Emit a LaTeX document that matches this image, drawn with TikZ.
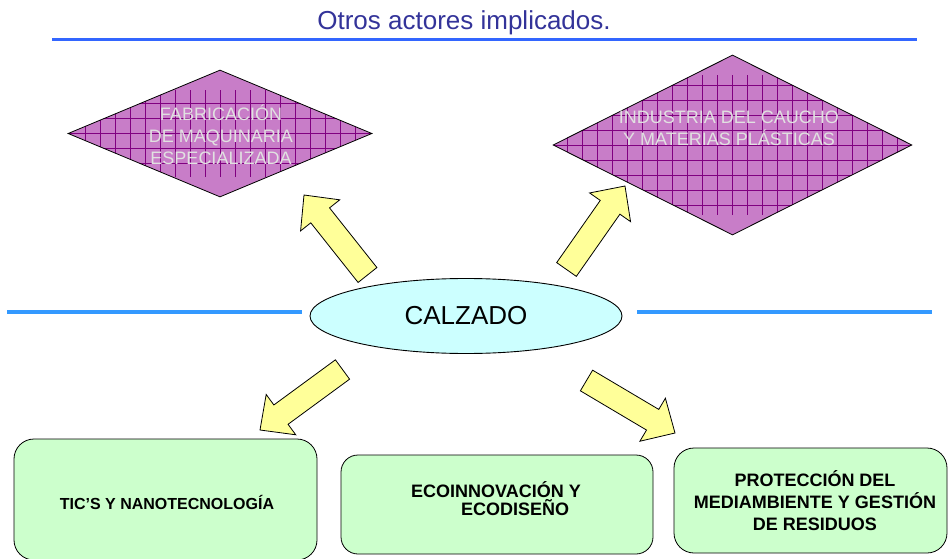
\documentclass[tikz,border=0pt]{standalone}
\usepackage{fontspec}
\setmainfont{Liberation Sans}
\usetikzlibrary{shapes.geometric,calc}
\definecolor{titleblue}{RGB}{51,51,153}
\definecolor{topblue}{RGB}{51,102,255}
\definecolor{midblue}{RGB}{51,153,255}
\definecolor{diafill}{RGB}{200,125,200}
\definecolor{diagrid}{RGB}{128,0,128}
\definecolor{diatext}{RGB}{225,225,225}
\definecolor{yarr}{RGB}{255,255,153}
\definecolor{ellfill}{RGB}{204,255,255}
\definecolor{boxfill}{RGB}{204,255,204}
\tikzset{
  dia/.style={diamond, draw=black, line width=0.8pt, fill=diafill, inner sep=0pt,
    path picture={\draw[diagrid, line width=0.7pt]
      ([shift={(-20pt,20pt)}]path picture bounding box.south west) grid[step=15pt]
      ([shift={(20pt,-20pt)}]path picture bounding box.north east);}},
  diatxt/.style={text=diatext, align=center, font=\fontsize{18pt}{22pt}\selectfont},
  yarrow/.style={draw=black, line width=0.8pt, fill=yarr, line join=miter},
  ell/.style={ellipse, draw=black, line width=0.9pt, fill=ellfill, inner sep=0pt},
  greenbox/.style={rectangle, rounded corners=20pt, draw=black, line width=0.8pt, fill=boxfill, inner sep=0pt},
  boxtxt/.style={align=center, font=\bfseries\fontsize{18pt}{22pt}\selectfont},
  topline/.style={draw=topblue, line width=3pt},
  midline/.style={draw=midblue, line width=4pt},
}
\newcommand{\blockarr}[2]{%
  \path ($(#2)!26pt!(#1)$) coordinate (hb);
  \draw[yarrow] ($(#1)!12pt!90:(#2)$) -- ($(hb)!12pt!90:(#2)$) -- ($(hb)!25pt!90:(#2)$)
     -- (#2) -- ($(hb)!25pt!-90:(#2)$) -- ($(hb)!12pt!-90:(#2)$) -- ($(#1)!12pt!-90:(#2)$) -- cycle;}
\begin{document}
\begin{tikzpicture}[x=1pt,y=-1pt]
\useasboundingbox (0,0) rectangle (948,559);
% title
\node[text=titleblue, font=\fontsize{26pt}{30pt}\selectfont, anchor=base, inner sep=0pt] (ttl) at (464,30) {Otros actores implicados.};
\coordinate (tl1) at (52,40); \coordinate (tl2) at (917,40);
\draw[topline] (tl1) -- (tl2);
% diamonds
\node[dia, minimum width=304pt, minimum height=127pt] (fab) at (220,133.5) {};
\node[diatxt] (fabt) at (221,135) {FABRICACIÓN\\DE MAQUINARIA\\ESPECIALIZADA};
\node[dia, minimum width=359pt, minimum height=180pt] (ind) at (732.5,145) {};
\node[diatxt] (indt) at (729,128.5) {INDUSTRIA DEL CAUCHO\\Y MATERIAS PLÁSTICAS};
% middle lines
\coordinate (ml1) at (7,312); \coordinate (ml2) at (302,312);
\coordinate (mr1) at (637,312); \coordinate (mr2) at (932,312);
\draw[midline] (ml1) -- (ml2);
\draw[midline] (mr1) -- (mr2);
% ellipse
\node[ell, minimum width=312pt, minimum height=75pt, font=\fontsize{26pt}{30pt}\selectfont] (calz) at (466,316) {CALZADO};
% arrows
\coordinate (a1t) at (367.5,275); \coordinate (a1h) at (304,195);
\coordinate (a2t) at (566.5,269.5); \coordinate (a2h) at (625,186);
\coordinate (a3t) at (342.5,369.5); \coordinate (a3h) at (260,430);
\coordinate (a4t) at (586.5,380.5); \coordinate (a4h) at (675,433);
\blockarr{a1t}{a1h}
\blockarr{a2t}{a2h}
\blockarr{a3t}{a3h}
\blockarr{a4t}{a4h}
% boxes
\node[greenbox, minimum width=303pt, minimum height=121pt] (tic) at (165.5,499.5) {};
\node[font=\bfseries\fontsize{16pt}{20pt}\selectfont] (tict) at (167,502) {TIC’S Y NANOTECNOLOGÍA};
\node[greenbox, minimum width=312pt, minimum height=99pt, rounded corners=17pt] (eco) at (497,504.5) {};
\node[boxtxt, align=left, font=\bfseries\fontsize{18pt}{18pt}\selectfont] (ecot) at (496,499) {ECOINNOVACIÓN Y\\\hspace*{50pt}ECODISEÑO};
\node[greenbox, minimum width=273pt, minimum height=105pt] (pro) at (810.5,500.5) {};
\node[boxtxt] (prot) at (815,500.5) {PROTECCIÓN DEL\\MEDIAMBIENTE Y GESTIÓN\\DE RESIDUOS};
\end{tikzpicture}
\end{document}
